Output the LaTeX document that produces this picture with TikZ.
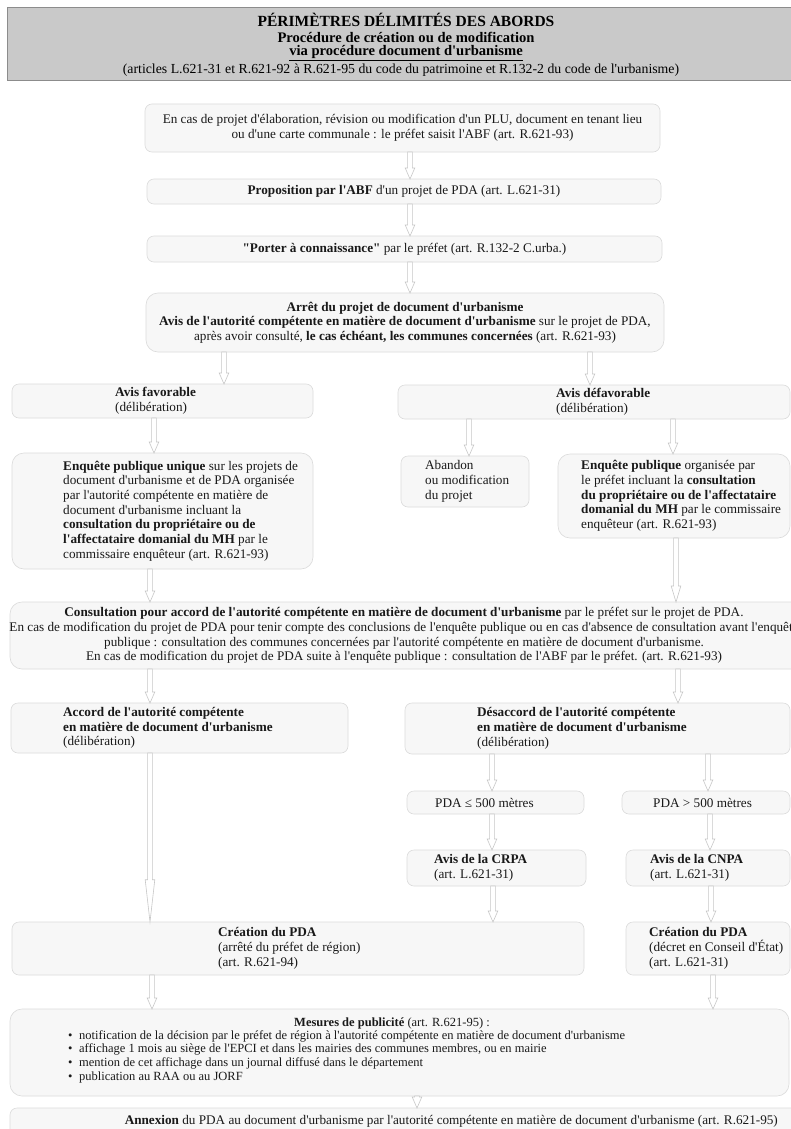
\documentclass[tikz,border=0pt]{standalone}
\usepackage{fontspec}
\setmainfont{Liberation Serif}[Ligatures=TeXOff]
\usetikzlibrary{calc}
\newcommand\bodyfs{\fontsize{13.2}{14.7}\selectfont}
\newcommand\smallfs{\fontsize{12.5}{13.7}\selectfont}
\tikzset{
  box/.style={draw=black!14, fill=black!3, rounded corners=7pt, line width=0.6pt, inner sep=0pt, outer sep=0pt, anchor=north west},
  bigbox/.style={box, rounded corners=12pt},
  txt/.style={inner sep=0pt, align=left, font=\bodyfs, text=black!90},
  ctxt/.style={inner sep=0pt, align=center, font=\bodyfs, text=black!90},
  arr/.style={draw=black!22, fill=white, line width=0.6pt},
}
% box: style, name, x1, y1, x2, y2
\newcommand\mkbox[6]{\node[#1, minimum width={(#5-#3)*1pt}, minimum height={(#6-#4)*1pt}] (#2) at (#3,#4) {};}
% vertical block arrow: x, from, to
\newcommand\varrow[3]{%
  \path[arr] let \p1=(#2.south), \p2=(#3.north), \n1={max(11,0.25*(\y1-\y2))} in
  ({#1pt-2.4pt},\y1) -- ({#1pt-2.4pt},{\y2+\n1*1pt}) -- ({#1pt-4.8pt},{\y2+\n1*1pt}) --
  (#1pt,\y2) -- ({#1pt+4.8pt},{\y2+\n1*1pt}) -- ({#1pt+2.4pt},{\y2+\n1*1pt}) --
  ({#1pt+2.4pt},\y1) -- cycle;}
\begin{document}
\begin{tikzpicture}[x=1pt,y=-1pt]
\useasboundingbox (0,0) rectangle (791,1129);
\clip (0,0) rectangle (791,1129);
\fill[white] (0,0) rectangle (791,1129);
% header
\path[fill=black!21, draw=black!45, line width=0.6pt] (7,7) rectangle (805,80);
\node[inner sep=0pt, font=\fontsize{15.5}{18}\selectfont\bfseries] (h1) at (406,20) {PÉRIMÈTRES DÉLIMITÉS DES ABORDS};
\node[inner sep=0pt, font=\fontsize{14.6}{17}\selectfont\bfseries] (h2) at (406,37) {Procédure de création ou de modification};
\node[inner sep=0pt, font=\fontsize{14.6}{17}\selectfont\bfseries] (h3) at (406,53) {\underline{via procédure document d'urbanisme}};
\node[inner sep=0pt, font=\fontsize{13.8}{16}\selectfont] (h4) at (401,70) {(articles L.621-31 et R.621-92 à R.621-95 du code du patrimoine et R.132-2 du code de l'urbanisme)};
% boxes
\mkbox{box}{b1}{145}{104}{660}{152}
\mkbox{box}{b2}{147}{179}{661}{204}
\mkbox{box}{b3}{147}{236}{662}{262}
\mkbox{bigbox}{b4}{146}{293}{664}{352}
\mkbox{box}{b5}{12}{384}{313}{418}
\mkbox{box}{b6}{398}{385}{790}{419}
\mkbox{bigbox}{b7}{12}{453}{313}{569}
\mkbox{box}{b8}{401}{456}{529}{507}
\mkbox{bigbox}{b9}{558}{454}{790}{538}
\mkbox{bigbox}{b10}{10}{602}{830}{669}
\mkbox{box}{b11}{11}{703}{348}{753}
\mkbox{box}{b12}{405}{703}{790}{754}
\mkbox{box}{b13}{407}{791}{584}{814}
\mkbox{box}{b14}{622}{791}{790}{814}
\mkbox{box}{b15}{407}{850}{586}{886}
\mkbox{box}{b16}{626}{850}{790}{886}
\mkbox{box}{b17}{12}{922}{584}{975}
\mkbox{box}{b18}{626}{922}{790}{975}
\mkbox{bigbox}{b19}{10}{1009}{789}{1096}
\mkbox{box}{b20}{10}{1108}{830}{1150}
% texts
\node[ctxt] (t1) at (b1.center) {En cas de projet d'élaboration, révision ou modification d'un PLU, document en tenant lieu\\ou d'une carte communale : le préfet saisit l'ABF (art. R.621-93)};
\node[ctxt] (t2) at (b2.center) {\textbf{Proposition par l'ABF} d'un projet de PDA (art. L.621-31)};
\node[ctxt] (t3) at (b3.center) {\textbf{"Porter à connaissance"} par le préfet (art. R.132-2 C.urba.)};
\node[ctxt] (t4) at (b4.center) {\textbf{Arrêt du projet de document d'urbanisme}\\\textbf{Avis de l'autorité compétente en matière de document d'urbanisme} sur le projet de PDA,\\après avoir consulté, \textbf{le cas échéant, les communes concernées} (art. R.621-93)};
\node[txt, anchor=west] (t5) at (b5.center -| 115,0) {\textbf{Avis favorable}\\(délibération)};
\node[txt, anchor=west] (t6) at (b6.center -| 556,0) {\textbf{Avis défavorable}\\(délibération)};
\node[txt, anchor=west] (t7) at (b7.center -| 63,0) {\textbf{Enquête publique unique} sur les projets de\\document d'urbanisme et de PDA organisée\\par l'autorité compétente en matière de\\document d'urbanisme incluant la\\\textbf{consultation du propriétaire ou de}\\\textbf{l'affectataire domanial du MH} par le\\commissaire enquêteur (art. R.621-93)};
\node[txt, anchor=west] (t8) at (b8.center -| 425,0) {Abandon\\ou modification\\du projet};
\node[txt, anchor=west] (t9) at (b9.center -| 581,0) {\textbf{Enquête publique} organisée par\\le préfet incluant la \textbf{consultation}\\\textbf{du propriétaire ou de l'affectataire}\\\textbf{domanial du MH} par le commissaire\\enquêteur (art. R.621-93)};
\node[ctxt] (t10) at (404,635.5) {\textbf{Consultation pour accord de l'autorité compétente en matière de document d'urbanisme} par le préfet sur le projet de PDA.\\En cas de modification du projet de PDA pour tenir compte des conclusions de l'enquête publique ou en cas d'absence de consultation avant l'enquête\\publique : consultation des communes concernées par l'autorité compétente en matière de document d'urbanisme.\\En cas de modification du projet de PDA suite à l'enquête publique : consultation de l'ABF par le préfet. (art. R.621-93)};
\node[txt, anchor=west] (t11) at (b11.center -| 63,0) {\textbf{Accord de l'autorité compétente}\\\textbf{en matière de document d'urbanisme}\\(délibération)};
\node[txt, anchor=west] (t12) at (b12.center -| 477,0) {\textbf{Désaccord de l'autorité compétente}\\\textbf{en matière de document d'urbanisme}\\(délibération)};
\node[txt, anchor=west] (t13) at (b13.center -| 435,0) {PDA ≤ 500 mètres};
\node[txt, anchor=west] (t14) at (b14.center -| 653,0) {PDA > 500 mètres};
\node[txt, anchor=west] (t15) at (b15.center -| 434,0) {\textbf{Avis de la CRPA}\\(art. L.621-31)};
\node[txt, anchor=west] (t16) at (b16.center -| 650,0) {\textbf{Avis de la CNPA}\\(art. L.621-31)};
\node[txt, anchor=west] (t17) at (b17.center -| 218,0) {\textbf{Création du PDA}\\(arrêté du préfet de région)\\(art. R.621-94)};
\node[txt, anchor=west] (t18) at (b18.center -| 649,0) {\textbf{Création du PDA}\\(décret en Conseil d'État)\\(art. L.621-31)};
\node[ctxt, font=\smallfs] (t19a) at (392,1023) {\textbf{Mesures de publicité} (art. R.621-95) :};
\node[txt, font=\smallfs, anchor=west] (t19b) at (68,1056.5) {\makebox[11pt][l]{•}notification de la décision par le préfet de région à l'autorité compétente en matière de document d'urbanisme\\
\makebox[11pt][l]{•}affichage 1 mois au siège de l'EPCI et dans les mairies des communes membres, ou en mairie\\
\makebox[11pt][l]{•}mention de cet affichage dans un journal diffusé dans le département\\
\makebox[11pt][l]{•}publication au RAA ou au JORF};
\node[ctxt, anchor=east] (t20) at (778,1121) {\textbf{Annexion} du PDA au document d'urbanisme par l'autorité compétente en matière de document d'urbanisme (art. R.621-95)};
% arrows
\varrow{410}{b1}{b2}
\varrow{410}{b2}{b3}
\varrow{410}{b3}{b4}
\varrow{224}{b4}{b5}
\varrow{590}{b4}{b6}
\varrow{154}{b5}{b7}
\varrow{469}{b6}{b8}
\varrow{673}{b6}{b9}
\varrow{150}{b7}{b10}
\varrow{676}{b9}{b10}
\varrow{150}{b10}{b11}
\varrow{678}{b10}{b12}
\varrow{150}{b11}{b17}
\varrow{492}{b12}{b13}
\varrow{708}{b12}{b14}
\varrow{492}{b13}{b15}
\varrow{710}{b14}{b16}
\varrow{493}{b15}{b17}
\varrow{711}{b16}{b18}
\varrow{152}{b17}{b19}
\varrow{713}{b18}{b19}
\varrow{417}{b19}{b20}
\end{tikzpicture}
\end{document}
